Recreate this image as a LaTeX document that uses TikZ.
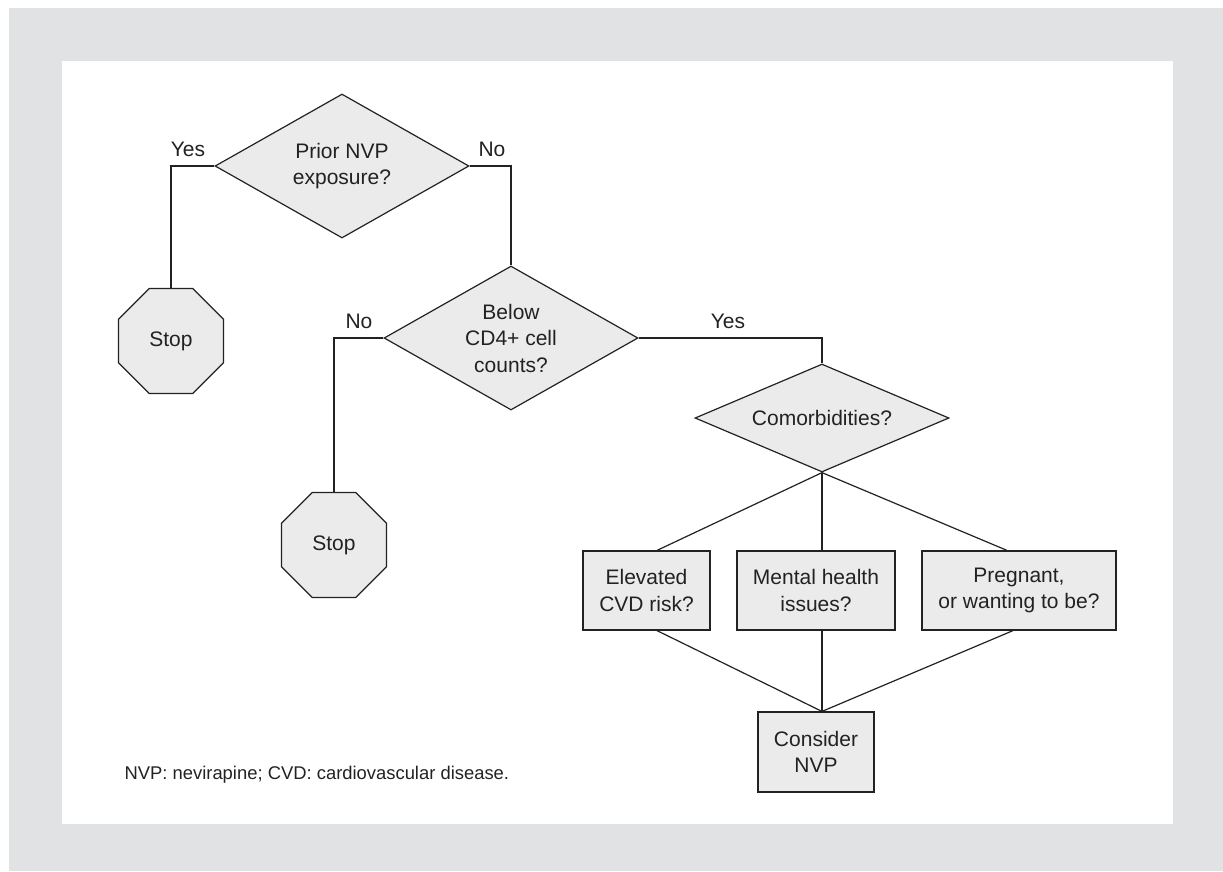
\documentclass[tikz,border=0pt]{standalone}
\usepackage{fontspec}
\setmainfont{Liberation Sans}
\usetikzlibrary{shapes.geometric,calc}
\definecolor{framegray}{HTML}{E1E2E3}
\definecolor{boxfill}{HTML}{EBEBEB}
\definecolor{ink}{HTML}{222222}
\begin{document}
\begin{tikzpicture}[x=1pt,y=-1pt,
  line width=1.2pt,
  every node/.style={text=ink,font=\fontsize{21}{26.5}\selectfont},
  conn/.style={draw=ink,line width=1.2pt},
  decision/.style={diamond,draw=ink,fill=boxfill,inner sep=0pt,align=center,
    minimum width=254pt,aspect=1.76},
  stopsign/.style={regular polygon,regular polygon sides=8,draw=ink,fill=boxfill,
    inner sep=0pt,minimum size=113.6pt},
  question/.style={rectangle,draw=ink,fill=boxfill,inner sep=0pt,align=center,
    minimum height=79pt},
  answer/.style={inner sep=0pt}
]
\useasboundingbox (0,0) rectangle (1223,871);
\fill[white] (0,0) rectangle (1223,871);
\fill[framegray] (9,8) rectangle (1223,871);
\fill[white] (62,61) rectangle (1173,824);

% nodes
\node[decision,minimum height=144pt] (prior) at (342,166) {Prior NVP\\exposure?};
\node[decision,minimum height=144pt] (cd4) at (511,338) {Below\\CD4+ cell\\counts?};
\node[decision,minimum height=108pt,aspect=2.35] (comorb) at (822,418) {Comorbidities?};
\node[stopsign] (stop1) at (171,341) {Stop};
\node[stopsign] (stop2) at (334,545) {Stop};
\node[question,minimum width=127pt] (cvd) at (646.5,590.5) {Elevated\\CVD risk?};
\node[question,minimum width=158pt] (mental) at (816,590.5) {Mental health\\issues?};
\node[question,minimum width=194pt] (preg) at (1019,590.5) {Pregnant,\\or wanting to be?};
\node[question,minimum width=116pt,minimum height=80pt] (nvp) at (816,752) {Consider\\NVP};

% answer labels
\node[answer] (yes1) at (188,149) {Yes};
\node[answer] (no1) at (492,149) {No};
\node[answer] (no2) at (359,321) {No};
\node[answer] (yes2) at (728,321) {Yes};

% connectors
\draw[conn] (prior.west) -| (stop1.north);
\draw[conn] (prior.east) -| (cd4.north);
\draw[conn] (cd4.west) -| (stop2.north);
\draw[conn] (cd4.east) -| (comorb.north);
\coordinate (cvdtop) at ($(cvd.north)+(10.5,0)$);
\coordinate (mentaltop) at ($(mental.north)+(6,0)$);
\coordinate (pregtop) at ($(preg.north)+(-12,0)$);
\draw[conn] (comorb.south) -- (cvdtop);
\draw[conn] (comorb.south) -- (mentaltop);
\draw[conn] (comorb.south) -- (pregtop);
\coordinate (nvptop) at ($(nvp.north)+(6,0)$);
\coordinate (cvdbot) at ($(cvd.south)+(10.5,0)$);
\coordinate (mentalbot) at ($(mental.south)+(6,0)$);
\coordinate (pregbot) at ($(preg.south)+(-6,0)$);
\draw[conn] (cvdbot) -- (nvptop);
\draw[conn] (mentalbot) -- (nvptop);
\draw[conn] (pregbot) -- (nvptop);

% footnote
\node[anchor=base west,inner sep=0pt,font=\fontsize{18.4}{22}\selectfont] (foot) at (124,779)
  {NVP: nevirapine; CVD: cardiovascular disease.};
\end{tikzpicture}
\end{document}
